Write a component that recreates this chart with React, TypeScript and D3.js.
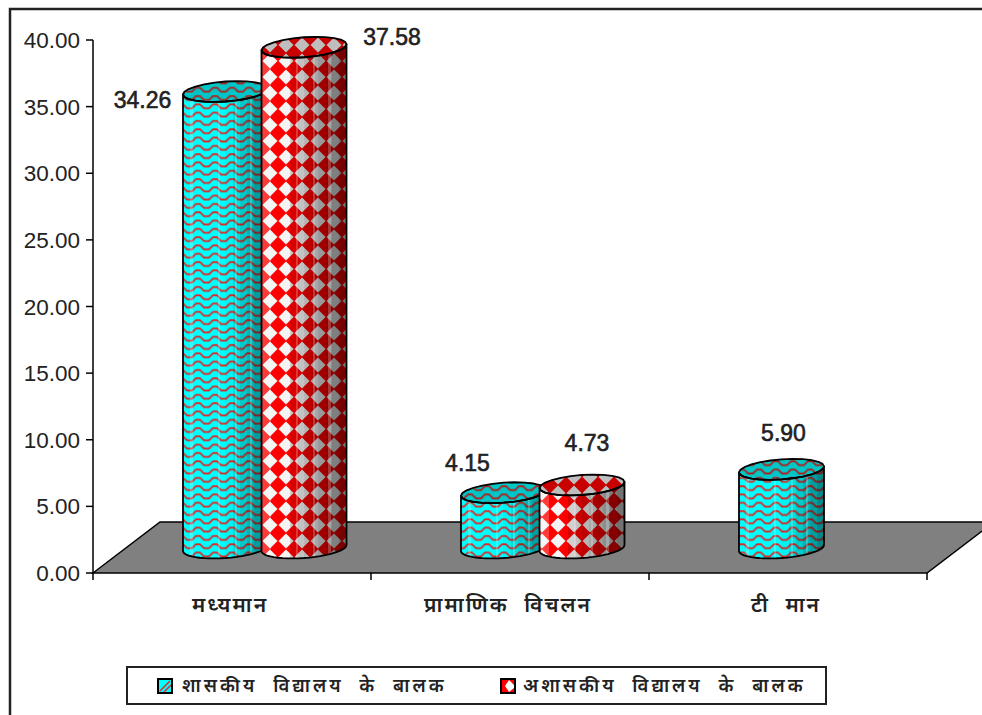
import React from "react";
import * as d3 from "d3";

// Chart data
const categories = ["मध्यमान", "प्रामाणिक विचलन", "टी मान"];
const seriesNames = ["शासकीय विद्यालय के बालक", "अशासकीय विद्यालय के बालक"];
const governmentValues = [34.26, 4.15, 5.9];
const privateValues: (number | null)[] = [37.58, 4.73, null];
const valueTicks = [0, 5, 10, 15, 20, 25, 30, 35, 40];

const WIDTH = 982;
const HEIGHT = 715;

const yScale = d3.scaleLinear().domain([0, 40]).range([573, 40]);
const xScale = d3.scaleBand<string>().domain(categories).range([93, 927]).padding(0);

// Floor parallelogram and its depth
const DEPTH_X = 67;
const DEPTH_Y = 51;
const BASE_LIFT = 25;

// Horizontal placement of each series' cylinder inside its category band
const SERIES_OFFSET = [-6.5, 72];
const RX = 42.5;
const RY = 10;
const TILT = 3;
const FACETS = 24;

// Value label offsets from the centre of each cylinder's top
const LABEL_OFFSETS: Record<string, [number, number]> = {
  "0-0": [-83, 8],
  "1-0": [88, -11],
  "0-1": [-36, -30],
  "1-1": [5, -42],
  "0-2": [2, -37],
};

const ringPoint = (cx: number, cy: number, a: number): [number, number] => [
  cx + RX * Math.cos(a),
  cy + RY * Math.sin(a) - TILT * Math.cos(a),
];

const ring = (cx: number, cy: number, from: number, to: number) =>
  d3.range(FACETS + 1).map((i) => ringPoint(cx, cy, from + ((to - from) * i) / FACETS));

const line = d3.line();

function Cylinder({ cx, topY, baseY, series }: { cx: number; topY: number; baseY: number; series: number }) {
  const topFront = ring(cx, topY, Math.PI, 0);
  const baseFront = ring(cx, baseY, 0, Math.PI);
  const body = line([...topFront, ...baseFront])! + "Z";
  const lid = line(ring(cx, topY, 0, Math.PI * 2))! + "Z";
  const pat = series === 0 ? "url(#wave)" : "url(#diamond)";
  const shade = series === 0 ? "url(#shadeTeal)" : "url(#shadeRed)";
  return (
    <g>
      <path d={body} fill={pat} />
      <path d={body} fill={shade} />
      <path d={body} fill="url(#ribs)" />
      <path d={lid} fill={pat} />
      <path d={lid} fill="url(#shadeLid)" />
      <path d={body} fill="none" stroke="#000" strokeWidth={1.8} strokeLinejoin="round" />
      <path d={lid} fill="none" stroke="#000" strokeWidth={1.8} strokeLinejoin="round" />
    </g>
  );
}

// Stepped stops across the width of the cylinder, one flat tone per facet
function facetStops(colorAt: (t: number) => [string, number]) {
  const n = 12;
  const out: React.ReactElement[] = [];
  d3.range(n).forEach((i) => {
    const [c, o] = colorAt((i + 0.5) / n);
    out.push(<stop key={`${i}a`} offset={i / n} stopColor={c} stopOpacity={o} />);
    out.push(<stop key={`${i}b`} offset={(i + 1) / n} stopColor={c} stopOpacity={o} />);
  });
  return out;
}

// Narrow highlights where neighbouring facets meet
const RIB_POSITIONS = [0.1, 0.42, 0.62, 0.8];
function ribStops() {
  const out: React.ReactElement[] = [];
  RIB_POSITIONS.forEach((p, i) => {
    const w = 0.012;
    out.push(<stop key={`${i}a`} offset={p - w} stopColor="#fff" stopOpacity={0} />);
    out.push(<stop key={`${i}b`} offset={p - w} stopColor="#fff" stopOpacity={0.22} />);
    out.push(<stop key={`${i}c`} offset={p + w} stopColor="#fff" stopOpacity={0.22} />);
    out.push(<stop key={`${i}d`} offset={p + w} stopColor="#fff" stopOpacity={0} />);
  });
  return out;
}

const redShade = (t: number): [string, number] =>
  t < 0.1 ? ["#fff", 0.22] : t < 0.36 ? ["#000", 0] : ["#000", Math.min(0.55, 0.14 + ((t - 0.36) / 0.64) * 0.42)];
const tealShade = (t: number): [string, number] =>
  t < 0.5 ? ["#000", 0] : ["#000", ((t - 0.5) / 0.5) * 0.5];

export default function App() {
  const font = "'Liberation Sans', Arial, sans-serif";
  const hindi = "'Noto Sans', 'Noto Sans Devanagari', 'Lohit Devanagari', serif";

  const [fx0, fx1] = xScale.range();
  const y0 = yScale(0);
  const floor = `M${fx0},${y0}L${fx0 + DEPTH_X},${y0 - DEPTH_Y}L${fx1 + DEPTH_X},${y0 - DEPTH_Y}L${fx1},${y0}Z`;

  const cylinders: { key: string; series: number; value: number; cat: number }[] = [];
  categories.forEach((_, c) => {
    cylinders.push({ key: `0-${c}`, series: 0, value: governmentValues[c], cat: c });
    const p = privateValues[c];
    if (p !== null) cylinders.push({ key: `1-${c}`, series: 1, value: p, cat: c });
  });

  return (
    <svg
      width={WIDTH}
      height={HEIGHT}
      viewBox={`0 0 ${WIDTH} ${HEIGHT}`}
      style={{ position: "absolute", left: 0, top: 0, display: "block" }}
    >
      <defs>
        <pattern id="wave" width={17} height={8.3} patternUnits="userSpaceOnUse" patternTransform="translate(3.5,2.7)">
          <rect width={17} height={8.3} fill="#00ffff" />
          <path d="M-1,6 L1.5,6 L5.5,2 L9.5,2 L13.5,6 L18,6" fill="none" stroke="#e02828" strokeWidth={1.8} />
        </pattern>
        <pattern id="diamond" width={16} height={16} patternUnits="userSpaceOnUse" patternTransform="translate(6,5)">
          <rect width={16} height={16} fill="#ff0000" />
          <path d="M8,0.5L15.5,8L8,15.5L0.5,8Z" fill="#f4f4f4" />
        </pattern>
        <linearGradient id="shadeRed">{facetStops(redShade)}</linearGradient>
        <linearGradient id="shadeTeal">{facetStops(tealShade)}</linearGradient>
        <linearGradient id="ribs">{ribStops()}</linearGradient>
        <linearGradient id="shadeLid">
          <stop offset="0" stopColor="#000" stopOpacity={0.22} />
          <stop offset="1" stopColor="#000" stopOpacity={0.22} />
        </linearGradient>
      </defs>

      <rect width={WIDTH} height={HEIGHT} fill="#fff" />
      <rect x={10} y={9} width={WIDTH + 20} height={HEIGHT + 20} fill="#fff" stroke="#222" strokeWidth={2.5} />

      <path d={floor} fill="#808080" stroke="#000" strokeWidth={1.5} />

      {/* Value axis */}
      <line x1={93} x2={93} y1={yScale(40)} y2={y0} stroke="#000" strokeWidth={1.5} />
      {valueTicks.map((t) => (
        <g key={t}>
          <line x1={86} x2={93} y1={yScale(t)} y2={yScale(t)} stroke="#000" strokeWidth={1.5} />
          <text x={80} y={yScale(t)} dy="0.36em" textAnchor="end" fontFamily={font} fontSize={22.5} fill="#222">
            {d3.format(".2f")(t)}
          </text>
        </g>
      ))}

      {/* Category axis */}
      {[...categories.map((c) => xScale(c)!), fx1].map((x) => (
        <line key={x} x1={x} x2={x} y1={y0} y2={y0 + 7} stroke="#000" strokeWidth={1.5} />
      ))}
      {categories.map((c) => (
        <text
          key={c}
          x={xScale(c)! + xScale.bandwidth() / 2 - 2}
          y={612}
          textAnchor="middle"
          fontFamily={hindi}
          fontWeight={600}
          fontSize={21}
          letterSpacing={2}
          wordSpacing={8}
          fill="#222"
        >
          {c}
        </text>
      ))}

      {cylinders.map((d) => {
        const band = xScale(categories[d.cat])! + xScale.bandwidth() / 2;
        const cx = band + SERIES_OFFSET[d.series];
        const topY = yScale(d.value) - BASE_LIFT;
        return <Cylinder key={d.key} cx={cx} topY={topY} baseY={y0 - BASE_LIFT} series={d.series} />;
      })}

      {cylinders.map((d) => {
        const band = xScale(categories[d.cat])! + xScale.bandwidth() / 2;
        const cx = band + SERIES_OFFSET[d.series];
        const topY = yScale(d.value) - BASE_LIFT;
        const [dx, dy] = LABEL_OFFSETS[d.key];
        return (
          <text
            key={d.key}
            x={cx + dx}
            y={topY + dy}
            dy="0.36em"
            textAnchor="middle"
            fontFamily={font}
            fontSize={23}
            fill="#222"
            stroke="#222"
            strokeWidth={0.6}
          >
            {d3.format(".2f")(d.value)}
          </text>
        );
      })}

      {/* Legend */}
      <rect x={127} y={667} width={699} height={37} fill="#fff" stroke="#222" strokeWidth={2} />
      <rect x={158} y={679} width={14} height={14} fill="#00ffff" stroke="#000" strokeWidth={2} />
      <path d="M160,691L170,681M164,692L171,685" fill="none" stroke="#e02828" strokeWidth={1.5} />
      <text x={182} y={692} fontFamily={hindi} fontWeight={600} fontSize={18.5} fill="#222" letterSpacing={3} wordSpacing={8}>
        {seriesNames[0]}
      </text>
      <rect x={501} y={679} width={14} height={14} fill="#ff0000" stroke="#000" strokeWidth={2} />
      <path d="M509,680L514,685L514,688L509,692L505,686Z" fill="#fff" />
      <text x={523} y={692} fontFamily={hindi} fontWeight={600} fontSize={18.5} fill="#222" letterSpacing={3} wordSpacing={8}>
        {seriesNames[1]}
      </text>
    </svg>
  );
}
